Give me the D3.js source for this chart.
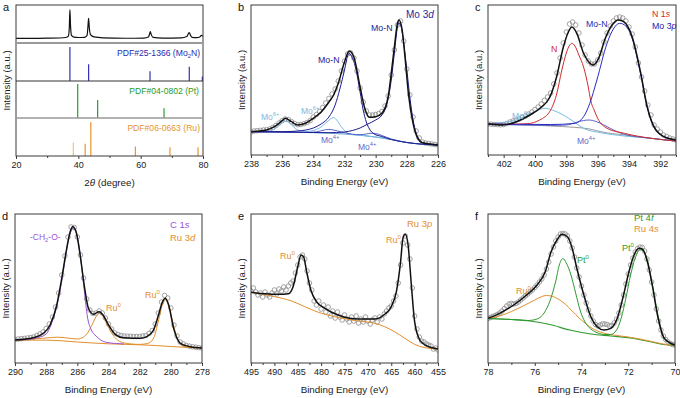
<!DOCTYPE html>
<html><head><meta charset="utf-8">
<script src="https://cdn.jsdelivr.net/npm/d3@7"></script>
<style>body{margin:0;background:#fff} text{font-family:"Liberation Sans",Arial,sans-serif}</style>
</head><body><script>
// ---------------- DATA ----------------
// Panel a (XRD)
const aTicks = [20, 40, 60, 80];
const aMinor = [30, 50, 70];
const xrdCurve = [[20,12],[25,12.3],[30,12.6],[34,13.2],[36,14.5],[36.8,18],[37.1,40],[37.3,88],[37.5,45],[37.8,20],[38.6,15.5],[40,14.5],[42,15],[42.8,20],[43.1,45],[43.3,65],[43.5,42],[43.9,22],[45,16],[48,13.5],[55,12.5],[61,13],[62.5,16],[62.9,25],[63.1,30],[63.4,22],[64,15],[67,13],[73,13.5],[74.8,17],[75.4,26],[75.6,27.5],[75.9,22],[76.5,15],[78,14],[79,16],[79.5,20],[80,18]];
const mo2nSticks = [[37.3,100],[43.3,49],[63.0,29],[75.6,42],[79.8,13]];
const ptSticks = [[39.8,100],[46.2,53],[67.5,29]];
const ruSticks = [[38.4,40],[42.2,36],[44.0,100],[58.3,28],[69.4,26],[78.4,26]];
const refLabels = ["PDF#25-1366 (Mo", "PDF#04-0802 (Pt)", "PDF#06-0663 (Ru)"];

// Panel b (Mo 3d)
const bTicks = [238,236,234,232,230,228,226];
const bMinor = [237,235,233,231,229,227];
const bData = [[238,23],[237.8,24],[237.6,24.3],[237.4,24.6],[237.2,25],[237,25.3],[236.8,26],[236.6,27.5],[236.4,29.5],[236.2,32],[236,34.3],[235.8,36],[235.6,35.5],[235.4,33.3],[235.2,31.5],[235,30.3],[234.8,30.5],[234.6,31.3],[234.4,32.5],[234.2,34.5],[234,38],[233.8,40.5],[233.6,43.5],[233.4,47.5],[233.2,52],[233,56.5],[232.8,61],[232.6,66],[232.4,74],[232.2,84],[232,94],[231.8,101],[231.6,102],[231.4,97],[231.2,84],[231,67],[230.8,53],[230.6,44],[230.4,40],[230.2,40],[230,40.5],[229.8,41.5],[229.6,43.5],[229.4,49],[229.2,59],[229,80],[228.8,105],[228.6,130],[228.4,134],[228.2,114],[228,86],[227.8,60],[227.6,38],[227.4,24],[227.2,17],[227,13],[226.8,12],[226.6,11.5],[226.4,11],[226.2,10.5],[226,10]];
const bFit = [[238,23.3],[237,25],[236.5,28.3],[236,34.3],[235.8,36.7],[235.4,33.3],[235,30],[234.5,31.7],[234,36.7],[233.5,43],[233,53],[232.7,60],[232.4,71.7],[232,93],[231.7,104],[231.4,98],[231,68],[230.7,46.7],[230.4,37.7],[230,38.3],[229.6,41.7],[229.2,58],[229,81.7],[228.8,108],[228.6,131.7],[228.5,135],[228.3,125],[228.1,95],[227.9,61.7],[227.6,31.7],[227.3,16.7],[227,12.3],[226.5,11],[226,10]];
const bBg = [[238,23.3],[237,23.3],[236,23],[235,22.7],[234,22.3],[233,21.8],[232,21],[231,19.8],[230,18],[229,15.5],[228,12.5],[227,10.8],[226,10]];
const bMo6 = [[238,23.3],[237,23.5],[236.5,26],[236.2,30],[235.9,33.5],[235.7,33.5],[235.4,30],[235.1,26],[234.8,24],[234.4,23.5],[234,24.5],[233.6,27],[233.2,32],[232.9,36],[232.7,37.5],[232.5,35],[232.2,28],[231.9,23],[231.5,20.5],[231,19.8],[230,18],[229,15.5],[228,12.5],[227,10.8],[226,10]];
const bMo4 = [[238,23.3],[236,23],[234.5,22.5],[233.8,23.2],[233.3,25],[233,25.6],[232.7,25],[232.2,23],[231.5,20.8],[231,20.3],[230.6,21],[230.3,21.8],[230,21.5],[229.6,19.5],[229,16],[228,12.5],[227,10.8],[226,10]];
const bMoN1 = [[238,23.3],[236,23.3],[235,24],[234,27],[233.5,31],[233,38],[232.6,50],[232.3,66],[232,85],[231.8,99],[231.7,101.5],[231.55,99],[231.3,88],[231,63],[230.8,45],[230.6,33],[230.4,26],[230.1,21],[229.6,18.5],[229,15.5],[228,12.5],[227,10.8],[226,10]];
const bMoN2 = [[238,23.3],[235,22.8],[233,22.3],[232,23],[231.5,24.5],[231,27],[230.5,31],[230,35],[229.6,40],[229.3,50],[229,75],[228.8,102],[228.6,128],[228.5,132],[228.4,130],[228.2,112],[228,85],[227.8,57],[227.6,35],[227.4,22],[227.2,15.5],[227,12.5],[226.5,10.8],[226,10]];

// Panel c (N 1s / Mo 3p)
const cTicks = [402,400,398,396,394,392];
const cMinor = [403,401,399,397,395,393,391];
const cData = [[403,31],[402.8,30.8],[402.6,30.6],[402.4,30.4],[402.2,30.2],[402,30.5],[401.8,31.5],[401.6,33],[401.4,34],[401.2,35],[401,36],[400.8,37.5],[400.6,39],[400.4,41],[400.2,43],[400,45.5],[399.8,48],[399.6,51],[399.4,54.5],[399.2,58],[399,62],[398.8,71],[398.6,82],[398.4,97],[398.2,112],[398,123],[397.8,131],[397.6,133],[397.4,130],[397.2,122],[397,110],[396.8,100],[396.6,94],[396.4,91],[396.2,91],[396,95],[395.8,102],[395.6,113],[395.4,122],[395.2,129],[395,134],[394.8,137],[394.6,138],[394.4,137],[394.2,134],[394,128],[393.8,121],[393.6,108],[393.4,92],[393.2,78],[393,64],[392.8,50],[392.6,40],[392.4,30],[392.2,26],[392,23],[391.8,20],[391.6,18.5],[391.4,17],[391.2,16],[391,15]];
const cFit = [[403,31],[402.04,30],[401.18,33.3],[400.33,40],[399.68,46.7],[399.04,58.3],[398.62,78.3],[398.19,108],[397.87,123],[397.65,128],[397.33,121.7],[396.9,101.7],[396.58,93.3],[396.3,90],[395.94,96.7],[395.51,116.7],[395.08,130],[394.66,135],[394.34,133.3],[393.8,118.3],[393.27,83.3],[392.84,48.3],[392.41,28.3],[391.77,18.3],[391,15]];
const cBg = [[403,31],[401,30.5],[399,29],[397.5,27.7],[396.5,26],[395.8,23.3],[394.3,20],[392.6,16.7],[391,14]];
const cN = [[403,31],[402,30.7],[400.5,31.3],[399.7,35],[399,45],[398.6,62],[398.3,84],[398,102],[397.8,109.5],[397.65,111.7],[397.45,109],[397.2,100],[396.9,88],[396.6,68],[396.45,55],[396.2,44],[396,36.7],[395.4,26.7],[394.3,21.7],[392.6,16.7],[391,14]];
const cMoN = [[403,31],[399,30.5],[397.5,31.5],[396.9,38.3],[396.5,51.7],[396.05,75],[395.4,111.7],[395,126],[394.6,131.7],[394.2,129],[393.8,116.7],[393.27,81.7],[392.84,48.3],[392.41,28.3],[391.77,18.3],[391,15]];
const cMo6 = [[403,31],[401.2,35],[400.3,41],[399.7,45.5],[399.35,46.7],[398.9,45],[398.2,40],[397.5,33],[396.9,26.7],[395.8,22.3],[394.3,19],[392.6,16.7],[391,14]];
const cMo4 = [[403,31],[399,29.5],[398,30],[397.4,32.5],[396.9,34.5],[396.55,35],[396.1,33.5],[395.6,30],[395.2,26.7],[394.3,20.7],[392.6,16.7],[391,14]];

// Panel d (C 1s / Ru 3d)
const dTicks = [290,288,286,284,282,280,278];
const dMinor = [289,287,285,283,281,279];
const dData = [[290,23.5],[289.8,24],[289.6,24.3],[289.4,24.6],[289.2,25],[289,25.5],[288.8,26],[288.6,27.5],[288.4,29],[288.2,31],[288,34.5],[287.8,39],[287.6,46],[287.4,56],[287.2,70],[287,88],[286.8,107],[286.6,126],[286.4,136],[286.2,135.5],[286,126],[285.8,108],[285.6,85],[285.4,64],[285.2,53],[285,49.5],[284.8,50],[284.6,52],[284.4,50],[284.2,45],[284,39],[283.8,34],[283.6,30],[283.4,28.5],[283.2,27.5],[283,27],[282.8,26.8],[282.6,26.8],[282.4,26.5],[282.2,26.5],[282,26.5],[281.8,27],[281.6,27.5],[281.4,29.5],[281.2,32.5],[281,39],[280.8,50],[280.6,61],[280.4,67.5],[280.2,65],[280,55],[279.8,38],[279.6,27],[279.4,21],[279.2,19],[279,17.5],[278.8,16.8],[278.6,16.2],[278.4,15.8],[278.2,15.3],[278,15]];
const dFit = [[290,23],[288.82,25.3],[288.18,29.7],[287.75,38],[287.32,58],[287,84.7],[286.68,114.7],[286.46,131.3],[286.29,136.3],[286.08,131.3],[285.82,108],[285.56,78],[285.29,54.7],[284.96,48.7],[284.6,51.3],[284.32,47.3],[284,38],[283.57,28.7],[283.04,25.3],[281.96,24.7],[281.54,26.3],[281.11,33],[280.79,48],[280.53,61.3],[280.36,64.7],[280.14,58],[279.82,34.7],[279.39,19.7],[278.75,16.3],[278,15]];
const dBg = [[290,23],[288,22.8],[287,22.2],[286,21],[285,20],[284,19.2],[283,18.7],[282,18.2],[281,17.5],[280,16.5],[279,15.6],[278,15]];
const dRu = [[290,23],[289,23.8],[288,25],[287.3,25.8],[286.8,25.3],[286,24],[285.6,26],[285.3,31],[285,40],[284.75,47.5],[284.55,50],[284.35,47],[284.1,39],[283.8,30],[283.5,24],[283.1,20.5],[282.5,19],[282,18.6],[281.5,19.5],[281.1,25],[280.8,42],[280.55,58],[280.35,63],[280.15,58],[279.9,42],[279.6,25],[279.3,18],[279,16.2],[278,15]];
const dCH2O = [[290,23],[289,24],[288.5,25.5],[288,29],[287.6,42],[287.3,58],[287,82],[286.8,102],[286.6,121],[286.4,132],[286.3,134.5],[286.15,133],[285.95,122],[285.75,100],[285.55,72],[285.35,46],[285.1,33],[284.8,27],[284.5,23],[284.1,20.5],[283.5,19.5],[283,19]];

// Panel e (Ru 3p)
const eTicks = [495,490,485,480,475,470,465,460,455];
const eMinor = [492.5,487.5,482.5,477.5,472.5,467.5,462.5,457.5];
const eData = [[495,72],[494.5,75],[494,71],[493.5,68],[493,70],[492.5,66],[492,71],[491.5,68],[491,66],[490.5,70],[490,73],[489.5,69],[489,74],[488.5,72],[488,76],[487.5,73],[487,77],[486.5,80],[486,82],[485.5,90],[485,98],[484.5,106],[484,108],[483.5,104],[483,92],[482.5,80],[482,73],[481.5,62],[481,58],[480.5,62],[480,54],[479.5,58],[479,51],[478.5,56],[478,47],[477.5,52],[477,45],[476.5,51],[476,46],[475.5,43],[475,48],[474.5,44],[474,41],[473.5,46],[473,42],[472.5,47],[472,40],[471.5,44],[471,41],[470.5,46],[470,42],[469.5,39],[469,43],[468.5,45],[468,41],[467.5,46],[467,44],[466.5,49],[466,52],[465.5,55],[465,57],[464.5,62],[464,67],[463.5,80],[463,98],[462.5,120],[462,127],[461.5,118],[461,104],[460.5,75],[460,47],[459.5,34],[459,26],[458.5,22],[458,21],[457.5,19],[457,18],[456.5,17],[456,14],[455.5,15],[455,13]];
const eFit = [[495,70.7],[492,69.3],[489.2,68.7],[487,69.3],[486,76.3],[485,96.3],[484.3,108],[483.75,106.3],[483.1,91.3],[482.2,73],[481,61.3],[479.2,54.7],[476.4,48],[472.1,44],[468.5,44],[466.4,48.7],[465,56.3],[463.9,71.3],[463,101.3],[462.5,124.7],[462,128.7],[461.4,118],[460.7,78],[460,41.3],[458.9,23],[457.5,17.3],[455,14]];
const eBg = [[495,70.7],[489.9,66.3],[486.3,62],[483.5,56.3],[480.6,50.7],[477.1,46.3],[472.1,42],[468.5,39.7],[466.4,36.3],[464.3,31.3],[462.1,24.7],[460,18.7],[457.8,15.3],[455,14]];

// Panel f (Pt 4f / Ru 4s)
const fTicks = [78,76,74,72,70];
const fMinor = [77,75,73,71];
const fData = [[78,44.5],[77.9,45.5],[77.8,46.5],[77.7,47.5],[77.6,48.5],[77.5,50],[77.4,52],[77.3,54.5],[77.2,57],[77.1,59],[77,59.5],[76.9,59],[76.8,59.5],[76.7,61],[76.6,63],[76.5,65],[76.4,67],[76.3,69],[76.2,71],[76.1,73],[76,75.5],[75.9,78],[75.8,81],[75.7,84],[75.6,88],[75.5,94],[75.4,101],[75.3,109],[75.2,116],[75.1,122],[75,126],[74.9,129],[74.8,129.5],[74.7,129],[74.6,127],[74.5,122],[74.4,115],[74.3,106],[74.2,95],[74.1,86],[74,77],[73.9,68],[73.8,60],[73.7,53],[73.6,47],[73.5,42],[73.4,38.5],[73.3,37],[73.2,38],[73.1,39],[73,39],[72.9,38.5],[72.8,37],[72.7,37.5],[72.6,40],[72.5,44],[72.4,50],[72.3,58],[72.2,68],[72.1,79],[72,89],[71.9,98],[71.8,105],[71.7,111],[71.6,114.5],[71.5,116],[71.4,115.5],[71.3,112],[71.2,104],[71.1,93],[71,81],[70.9,68],[70.8,54],[70.7,42],[70.6,33],[70.5,27],[70.4,23.5],[70.3,21],[70.2,19.5],[70.1,18.5],[70,18]];
const fFit = [[78,44.7],[77.5,49.7],[76.9,58],[76.35,68],[75.9,78],[75.55,91.3],[75.3,111.3],[75.05,123],[74.84,128.7],[74.6,126.3],[74.4,114.7],[74.2,94.7],[73.9,68],[73.6,46.3],[73.33,36.3],[73.04,33],[72.75,34.7],[72.47,44.7],[72.2,68],[71.97,91.3],[71.75,108],[71.54,114.7],[71.4,114],[71.18,101.3],[70.96,76.3],[70.75,48],[70.46,24.7],[70,18]];
const fBg = [[78,44.5],[77,43.5],[76.2,42],[75.35,38.5],[74.5,33],[73.6,29],[72.75,27],[71.9,25],[71,21],[70.5,18.5],[70,17.3]];
const fPt = [[78,44.5],[77,43.5],[76.3,42.5],[75.9,44],[75.6,50],[75.35,62],[75.1,82],[74.95,98],[74.8,104.5],[74.65,100],[74.45,88],[74.25,70],[74.05,52],[73.85,41],[73.6,34],[73.3,30],[73,28.5],[72.75,28.5],[72.5,33],[72.3,45],[72.1,65],[71.9,88],[71.7,105],[71.5,113],[71.35,112],[71.15,100],[70.95,76],[70.75,50],[70.5,27],[70.25,20],[70,17.3]];
const fRu = [[78,44.5],[77.5,47],[77,51.5],[76.5,57],[76,63],[75.7,66.5],[75.5,67.5],[75.3,67],[75,64],[74.7,59],[74.4,52],[74.1,45],[73.8,39],[73.5,34],[73.2,31],[72.9,29],[72.5,27.5],[72,26],[71.5,24],[71,21.5],[70.5,19],[70,17.3]];

// ---------------- DRAWING ----------------
const FONT = '"Liberation Sans", Arial, sans-serif';
const svg = d3.select("body").append("svg").attr("width",680).attr("height",398);
svg.append("rect").attr("width",680).attr("height",398).attr("fill","#fff");

const C = {
  black:"#111", gray:"#8c8c8c", frame:"#3a3a3a",
  moN:"#1c1c90", mo4:"#5a62c8", mo6:"#76bbe8", bgB:"#5a9ad8",
  red:"#d02a2a", blue:"#2a2ac4", bgC:"#9a9a9a",
  purple:"#9b52d8", orange:"#e28e2c", green:"#2f9a2f", navy:"#2626a6"
};

function rich(g, x, y, parts, color, size, anchor){
  const t = g.append("text").attr("x",x).attr("y",y).attr("fill",color)
    .attr("font-size",size).attr("text-anchor",anchor||"start").attr("font-family",FONT);
  let shift = 0;
  parts.forEach(p => {
    const s = Array.isArray(p) ? p[0] : p, k = Array.isArray(p) ? p[1] : "";
    const ts = t.append("tspan").text(s);
    let ns = 0;
    if (k === "sup") { ns = -0.42*size; ts.attr("font-size", size*0.68); }
    if (k === "sub") { ns = 0.28*size; ts.attr("font-size", size*0.68); }
    if (k === "i") ts.attr("font-style","italic");
    ts.attr("dy", ns - shift); shift = ns;
  });
  return t;
}

function panel(cfg){
  const g = svg.append("g");
  const x = d3.scaleLinear().domain(cfg.domain).range([cfg.left, cfg.right]);
  const y = d3.scaleLinear().domain([0, cfg.bottom - cfg.top]).range([cfg.bottom, cfg.top]);
  const clipId = "clip" + cfg.name;
  svg.append("clipPath").attr("id", clipId).append("rect")
    .attr("x",cfg.left).attr("y",cfg.top).attr("width",cfg.right-cfg.left).attr("height",cfg.bottom-cfg.top);
  const plot = g.append("g").attr("clip-path", `url(#${clipId})`);
  const major = g.append("g").attr("transform",`translate(0,${cfg.bottom})`)
    .call(d3.axisBottom(x).tickValues(cfg.ticks).tickSize(3).tickSizeOuter(0).tickPadding(3).tickFormat(d3.format("d")));
  major.select(".domain").remove();
  major.selectAll("line").attr("stroke",C.frame);
  major.selectAll("text").attr("font-size",9).attr("fill","#1a1a1a").attr("font-family",FONT);
  const minor = g.append("g").attr("transform",`translate(0,${cfg.bottom})`)
    .call(d3.axisBottom(x).tickValues(cfg.minor).tickSize(2).tickSizeOuter(0).tickFormat(""));
  minor.select(".domain").remove();
  minor.selectAll("line").attr("stroke",C.frame);
  g.append("rect").attr("x",cfg.left).attr("y",cfg.top).attr("width",cfg.right-cfg.left)
    .attr("height",cfg.bottom-cfg.top).attr("fill","none").attr("stroke",C.frame).attr("stroke-width",1);
  // y title
  g.append("text").attr("transform",`translate(${cfg.left-6},${(cfg.top+cfg.bottom)/2}) rotate(-90)`)
    .attr("text-anchor","middle").attr("font-size",9.5).attr("fill","#1a1a1a").attr("font-family",FONT)
    .text("Intensity (a.u.)");
  // x title
  const xt = cfg.xtitle || [["Binding Energy (eV)",""]];
  rich(g, (cfg.left+cfg.right)/2, cfg.bottom + 30, xt, "#1a1a1a", 9.8, "middle");
  // panel letter
  g.append("text").attr("x",cfg.left-13).attr("y",cfg.top+6).attr("font-size",11).attr("fill","#111")
    .attr("font-family",FONT).text(cfg.name);
  const line = d3.line().x(d => x(d[0])).y(d => y(d[1])).curve(d3.curveMonotoneX);
  return {g, plot, x, y, line};
}

function drawData(p, data){
  p.plot.append("g").selectAll("circle").data(data).join("circle")
    .attr("cx", d => p.x(d[0])).attr("cy", d => p.y(d[1])).attr("r", 2.3)
    .attr("fill","none").attr("stroke",C.gray).attr("stroke-width",0.8);
}
function drawLine(p, data, color, w, dash){
  p.plot.append("path").datum(data).attr("d", p.line).attr("fill","none")
    .attr("stroke", color).attr("stroke-width", w || 1).attr("stroke-dasharray", dash || null);
}

// ---- Panel a ----
(function(){
  const cfg = {name:"a", left:16, right:203, top:5, bottom:156, domain:[20,80], ticks:aTicks, minor:aMinor,
    xtitle:[["2",""],["θ","i"],[" (degree)",""]]};
  const p = panel(cfg);
  const yTop = d3.scaleLinear().domain([0,100]).range([43,5]);
  const lineA = d3.line().x(d => p.x(d[0])).y(d => yTop(d[1])).curve(d3.curveMonotoneX);
  p.plot.append("path").datum(xrdCurve).attr("d", lineA).attr("fill","none").attr("stroke",C.black).attr("stroke-width",1.2);
  const hs = d3.scaleLinear().domain([0,100]).range([0,34]);
  const groups = [
    {sticks:mo2nSticks, base:81, color:"#3030b8"},
    {sticks:ptSticks, base:118, color:"#2e9a2e"},
    {sticks:ruSticks, base:156, color:"#e5952e"}
  ];
  groups.forEach((gr, gi) => {
    p.plot.append("g").selectAll("line").data(gr.sticks).join("line")
      .attr("x1", d => p.x(d[0])).attr("x2", d => p.x(d[0]))
      .attr("y1", gr.base).attr("y2", d => gr.base - hs(d[1]))
      .attr("stroke", (d,i) => (gi===2 && i===0) ? "#f2c375" : gr.color).attr("stroke-width",1.2);
  });
  // separators
  p.g.append("line").attr("x1",16).attr("x2",203).attr("y1",43).attr("y2",43).attr("stroke","#9a9a9a").attr("stroke-width",2.2);
  p.g.append("line").attr("x1",16).attr("x2",203).attr("y1",81).attr("y2",81).attr("stroke","#333").attr("stroke-width",1);
  p.g.append("line").attr("x1",16).attr("x2",203).attr("y1",118).attr("y2",118).attr("stroke","#9a9a9a").attr("stroke-width",1.6);
  rich(p.g, 200, 56, [[refLabels[0],""],["2","sub"],["N)",""]], "#2a2ab0", 8.6, "end");
  rich(p.g, 199, 94, [[refLabels[1],""]], "#2a9a2a", 8.6, "end");
  rich(p.g, 200, 131, [[refLabels[2],""]], "#e5952e", 8.6, "end");
})();

// ---- Panel b ----
(function(){
  const p = panel({name:"b", left:251, right:438, top:5, bottom:155, domain:[238,226], ticks:bTicks, minor:bMinor});
  drawData(p, bData);
  drawLine(p, bBg, C.bgB, 1);
  drawLine(p, bMo6, C.mo6, 1);
  drawLine(p, bMo4, C.mo4, 1);
  drawLine(p, bMoN1, C.moN, 1);
  drawLine(p, bMoN2, C.moN, 1);
  drawLine(p, bFit, C.black, 1.5);
  rich(p.g, 406, 18, ["Mo 3",["d","i"]], "#1c2a9c", 10, "start");
  rich(p.g, 371, 31, ["Mo-N"], C.moN, 8.8, "start");
  rich(p.g, 318, 63, ["Mo-N"], C.moN, 8.8, "start");
  rich(p.g, 261, 120, ["Mo",["6+","sup"]], "#7ab8e0", 8.5, "start");
  rich(p.g, 301, 114, ["Mo",["6+","sup"]], "#7ab8e0", 8.5, "start");
  rich(p.g, 321, 143, ["Mo",["4+","sup"]], "#6268c8", 8.5, "start");
  rich(p.g, 358, 150, ["Mo",["4+","sup"]], "#6268c8", 8.5, "start");
})();

// ---- Panel c ----
(function(){
  const p = panel({name:"c", left:488, right:676, top:5, bottom:155, domain:[403,391], ticks:cTicks, minor:cMinor});
  drawData(p, cData);
  drawLine(p, cBg, C.bgC, 1);
  drawLine(p, cMo6, C.mo6, 1);
  drawLine(p, cMo4, C.mo4, 1);
  drawLine(p, cN, C.red, 1);
  drawLine(p, cMoN, C.blue, 1);
  drawLine(p, cFit, C.black, 1.5);
  rich(p.g, 652, 17, ["N 1",["s","i"]], C.red, 8.8, "start");
  rich(p.g, 652, 29, ["Mo 3",["p","i"]], "#2222b8", 8.8, "start");
  rich(p.g, 586, 27, ["Mo-N"], "#2a2ab0", 8.8, "start");
  rich(p.g, 551, 52, ["N"], C.red, 8.8, "start");
  rich(p.g, 512, 119, ["Mo",["6+","sup"]], "#7ab8e0", 8.5, "start");
  rich(p.g, 577, 144, ["Mo",["4+","sup"]], "#6268c8", 8.5, "start");
})();

// ---- Panel d ----
(function(){
  const p = panel({name:"d", left:15, right:202, top:214, bottom:363, domain:[290,278], ticks:dTicks, minor:dMinor});
  drawData(p, dData);
  drawLine(p, dBg, C.orange, 1);
  drawLine(p, dRu, C.orange, 1);
  drawLine(p, dCH2O, C.purple, 1);
  drawLine(p, dFit, C.black, 1.5);
  rich(p.g, 170, 228, ["C 1",["s","i"]], C.purple, 9.5, "start");
  rich(p.g, 170, 241, ["Ru 3",["d","i"]], C.orange, 9.5, "start");
  rich(p.g, 30, 240, ["-CH",["2","sub"],"-O-"], C.purple, 8.5, "start");
  rich(p.g, 106, 311, ["Ru",["0","sup"]], C.orange, 9, "start");
  rich(p.g, 145, 298, ["Ru",["0","sup"]], C.orange, 9, "start");
})();

// ---- Panel e ----
(function(){
  const p = panel({name:"e", left:251, right:438, top:214, bottom:363, domain:[495,455], ticks:eTicks, minor:eMinor});
  drawData(p, eData);
  drawLine(p, eBg, C.orange, 1);
  drawLine(p, eFit, C.black, 1.5);
  rich(p.g, 407, 227, ["Ru 3",["p","i"]], C.orange, 9.5, "start");
  rich(p.g, 386, 243, ["Ru",["0","sup"]], C.orange, 9, "start");
  rich(p.g, 280, 259, ["Ru",["0","sup"]], C.orange, 9, "start");
})();

// ---- Panel f ----
(function(){
  const p = panel({name:"f", left:488, right:675, top:214, bottom:363, domain:[78,70], ticks:fTicks, minor:fMinor});
  drawData(p, fData);
  drawLine(p, fBg, C.green, 1.2);
  drawLine(p, fRu, C.orange, 1);
  drawLine(p, fPt, C.green, 1);
  drawLine(p, fFit, C.black, 1.5);
  rich(p.g, 634, 221, ["Pt 4",["f","i"]], C.green, 9.5, "start");
  rich(p.g, 634, 232, ["Ru 4",["s","i"]], C.orange, 9.5, "start");
  rich(p.g, 577, 263, ["Pt",["0","sup"]], C.green, 9, "start");
  rich(p.g, 622, 251, ["Pt",["0","sup"]], C.green, 9, "start");
  rich(p.g, 516, 294, ["Ru",["0","sup"]], C.orange, 9, "start");
})();
</script></body></html>
